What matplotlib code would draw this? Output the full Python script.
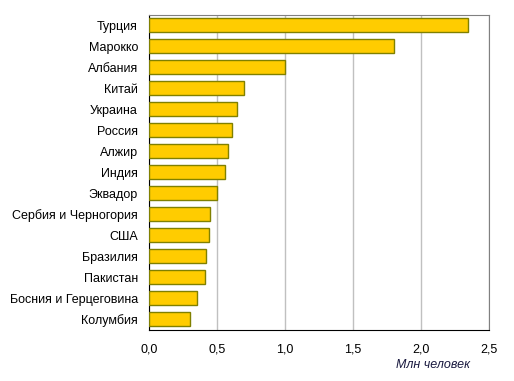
import numpy as np
import matplotlib.pyplot as plt
from matplotlib.ticker import FuncFormatter

plt.rcParams['font.family'] = ['Liberation Sans', 'DejaVu Sans']

countries = ['Турция', 'Марокко', 'Албания', 'Китай', 'Украина', 'Россия',
             'Алжир', 'Индия', 'Эквадор', 'Сербия и Черногория', 'США',
             'Бразилия', 'Пакистан', 'Босния и Герцеговина', 'Колумбия']
values = [2.35, 1.80, 1.00, 0.70, 0.65, 0.61, 0.58, 0.56, 0.50, 0.45,
          0.44, 0.42, 0.41, 0.355, 0.30]
xticks = [0, 0.5, 1.0, 1.5, 2.0, 2.5]

fig = plt.figure(figsize=(5.14, 3.81), dpi=100)
ax = fig.add_axes([0.290, 0.134, 0.661, 0.827])

y = np.arange(len(countries))
ax.barh(y, values, height=0.67, color='#FFCC00', edgecolor='#808000',
        linewidth=1.0, zorder=3)

ax.set_ylim(len(countries) - 0.5, -0.5)
ax.set_xlim(0, 2.5)
ax.set_yticks(y)
ax.set_yticklabels(countries, fontsize=9)
ax.set_xticks(xticks)
ax.xaxis.set_major_formatter(FuncFormatter(lambda v, p: f'{v:.1f}'.replace('.', ',')))
ax.tick_params(axis='x', labelsize=9, length=0, pad=10)
ax.tick_params(axis='y', length=0, pad=8)

ax.grid(axis='x', color='#c0c0c0', linewidth=1.0, zorder=0)
for s in ['top', 'right']:
    ax.spines[s].set_color('#808080')
for s in ['left', 'bottom']:
    ax.spines[s].set_color('black')

ax.text(0.837, -0.112, 'Млн человек', transform=ax.transAxes, ha='center',
        va='center', fontsize=9, style='italic', color='#1a1a40')

fig.savefig('out.png', dpi=100)
